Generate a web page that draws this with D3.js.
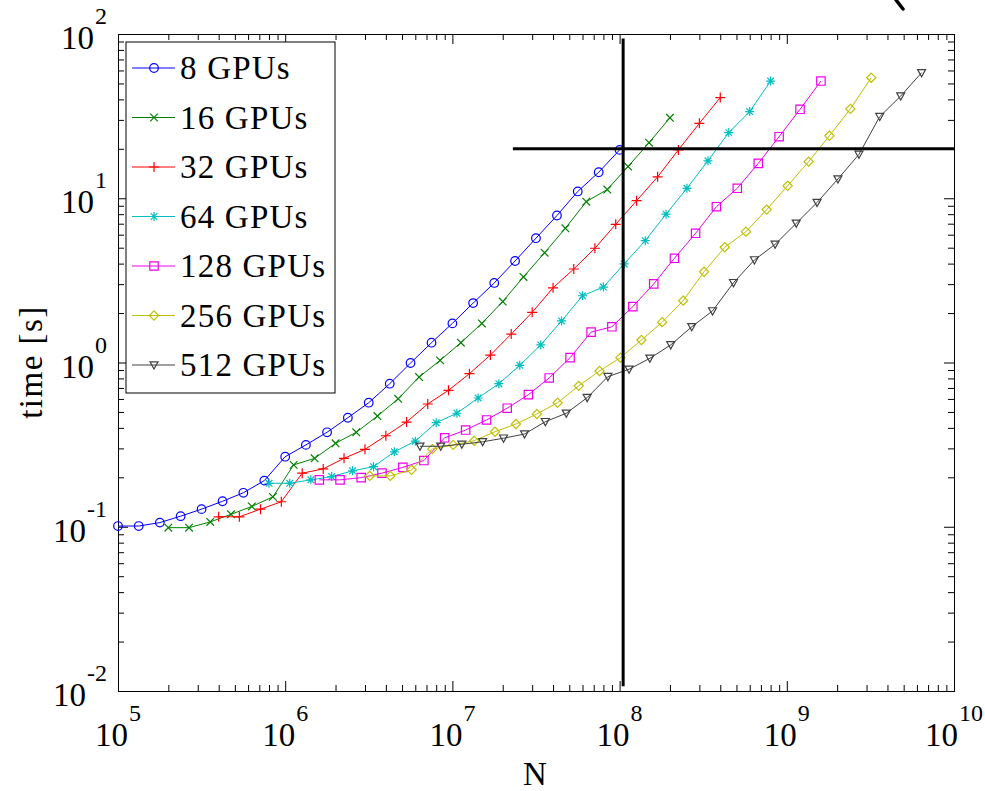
<!DOCTYPE html>
<html>
<head>
<meta charset="utf-8">
<script src="https://cdn.jsdelivr.net/npm/d3@7"></script>
<style>
  body { margin: 0; background: #fff; }
  text { font-family: "Liberation Serif", "Times New Roman", serif; fill: #000; }
</style>
</head>
<body>
<script>
// N values for the 8 GPU run; other runs are shifted by gpus/8
var baseN = [1.00e5, 1.33e5, 1.78e5, 2.37e5, 3.16e5, 4.22e5, 5.62e5, 7.50e5,
  1.00e6, 1.33e6, 1.78e6, 2.37e6, 3.16e6, 4.22e6, 5.62e6, 7.50e6,
  1.00e7, 1.33e7, 1.78e7, 2.37e7, 3.16e7, 4.22e7, 5.62e7, 7.50e7, 1.00e8];

var gpus = [8, 16, 32, 64, 128, 256, 512];
var labels = ["8 GPUs", "16 GPUs", "32 GPUs", "64 GPUs", "128 GPUs", "256 GPUs", "512 GPUs"];

var time8 = [0.101, 0.101, 0.106, 0.116, 0.128, 0.143, 0.161, 0.191, 0.267, 0.315, 0.376, 0.461, 0.569,
  0.743, 0.993, 1.32, 1.73, 2.30, 3.05, 4.15, 5.71, 7.85, 11.0, 14.4, 19.7];
var time16 = [0.0987, 0.0987, 0.107, 0.119, 0.133, 0.152, 0.238, 0.261, 0.322, 0.376, 0.472, 0.601,
  0.816, 1.03, 1.32, 1.73, 2.35, 3.32, 4.66, 6.56, 9.53, 11.3, 15.6, 21.8, 30.9];
var time32 = [0.115, 0.115, 0.128, 0.142, 0.212, 0.225, 0.261, 0.296, 0.358, 0.434, 0.559, 0.677,
  0.855, 1.11, 1.49, 2.02, 2.85, 3.71, 4.96, 6.94, 9.66, 13.5, 19.7, 28.6, 41.0];
var time64 = [0.184, 0.184, 0.193, 0.202, 0.219, 0.232, 0.286, 0.332, 0.430, 0.491, 0.608, 0.743,
  0.961, 1.28, 1.79, 2.55, 2.88, 3.98, 5.52, 8.00, 11.5, 16.9, 25.1, 33.7, 51.7];
var time128 = [0.193, 0.193, 0.199, 0.212, 0.230, 0.253, 0.348, 0.388, 0.447, 0.527, 0.637, 0.805,
  1.07, 1.53, 1.65, 2.19, 3.01, 4.31, 6.12, 8.88, 11.5, 16.3, 23.7, 34.8, 51.7];
var time256 = [0.204, 0.204, 0.222, 0.297, 0.315, 0.334, 0.379, 0.422, 0.486, 0.569, 0.721, 0.888,
  1.07, 1.37, 1.76, 2.38, 3.57, 5.03, 6.26, 8.53, 11.9, 16.7, 24.0, 35.0, 54.2];
var time512 = [0.309, 0.309, 0.318, 0.329, 0.346, 0.367, 0.436, 0.491, 0.611, 0.820, 0.910, 1.06,
  1.28, 1.65, 2.06, 3.06, 4.21, 5.24, 7.04, 9.42, 13.1, 18.5, 31.4, 41.9, 58.1];

var times = [time8, time16, time32, time64, time128, time256, time512];
var colors = ["#0000ff", "#008000", "#ff0000", "#00bfbf", "#ee00ee", "#bfbf00", "#404040"];
var markers = ["circle", "x", "plus", "star", "square", "diamond", "triangle"];

// black guide lines: N = 1.05e8 vertical, time = 20 s horizontal
var vLine = [[1.05e8, 94], [1.05e8, 0.0107]];
var hLine = [[2.3e7, 20], [1e10, 20]];

var width = 985, height = 791;
var margin = {top: 34, right: 954, bottom: 691, left: 118};

var svg = d3.select("body").append("svg")
  .attr("width", width)
  .attr("height", height);

var x = d3.scaleLog().domain([1e5, 1e10]).range([margin.left, margin.right]);
var y = d3.scaleLog().domain([1e-2, 1e2]).range([margin.bottom, margin.top]);

var xMajor = [1e5, 1e6, 1e7, 1e8, 1e9, 1e10];
var yMajor = [1e-2, 1e-1, 1e0, 1e1, 1e2];
var xMinor = x.ticks().filter(function(d) { return xMajor.indexOf(d) < 0; });
var yMinor = y.ticks().filter(function(d) { return yMajor.indexOf(d) < 0; });

function drawAxis(axisFn, scale, vals, size, transform) {
  var g = svg.append("g")
    .attr("transform", transform)
    .call(axisFn(scale).tickValues(vals).tickSize(size).tickSizeOuter(0).tickFormat(""));
  g.select(".domain").attr("stroke", "#000");
  g.selectAll(".tick line").attr("stroke", "#000");
}

// ticks on all four sides, pointing in
drawAxis(d3.axisBottom, x, xMajor, -10, "translate(0," + margin.bottom + ")");
drawAxis(d3.axisBottom, x, xMinor, -6, "translate(0," + margin.bottom + ")");
drawAxis(d3.axisTop, x, xMajor, -10, "translate(0," + margin.top + ")");
drawAxis(d3.axisTop, x, xMinor, -6, "translate(0," + margin.top + ")");
drawAxis(d3.axisLeft, y, yMajor, -10, "translate(" + margin.left + ",0)");
drawAxis(d3.axisLeft, y, yMinor, -6, "translate(" + margin.left + ",0)");
drawAxis(d3.axisRight, y, yMajor, -10, "translate(" + margin.right + ",0)");
drawAxis(d3.axisRight, y, yMinor, -6, "translate(" + margin.right + ",0)");

// tick labels as 10 with superscript
xMajor.forEach(function(d) {
  var e = Math.round(Math.log10(d));
  var t = svg.append("text")
    .attr("x", x(d))
    .attr("y", 746)
    .attr("text-anchor", "middle")
    .style("font-size", "33px");
  t.append("tspan").text("10");
  t.append("tspan").attr("dy", -25).attr("dx", 1).style("font-size", "24px").text(e);
});

yMajor.forEach(function(d) {
  var e = Math.round(Math.log10(d));
  var t = svg.append("text")
    .attr("x", 107)
    .attr("y", y(d) + 15)
    .attr("text-anchor", "end")
    .style("font-size", "33px");
  t.append("tspan").text("10");
  t.append("tspan").attr("dy", -25).attr("dx", 1).style("font-size", "24px").text(e);
});

svg.append("text")
  .attr("x", 535)
  .attr("y", 785)
  .attr("text-anchor", "middle")
  .style("font-size", "33px")
  .text("N");

svg.append("text")
  .attr("transform", "translate(42,362) rotate(-90)")
  .attr("text-anchor", "middle")
  .style("font-size", "33px")
  .style("letter-spacing", "1.5px")
  .text("time [s]");

function markerPath(type) {
  switch (type) {
    case "circle":
      return "M4.3,0A4.3,4.3 0 1,1 -4.3,0A4.3,4.3 0 1,1 4.3,0Z";
    case "x":
      return "M-3.8,-3.8L3.8,3.8M-3.8,3.8L3.8,-3.8";
    case "plus":
      return "M-5,0L5,0M0,-5L0,5";
    case "star":
      return "M-4.5,0L4.5,0M0,-4.5L0,4.5M-3.3,-3.3L3.3,3.3M-3.3,3.3L3.3,-3.3";
    case "square":
      return "M-4.2,-4.2L4.2,-4.2L4.2,4.2L-4.2,4.2Z";
    case "diamond":
      return "M0,-4.6L4.6,0L0,4.6L-4.6,0Z";
    case "triangle":
      return "M-4,-3.2L4,-3.2L0,4Z";
  }
}

var line = d3.line()
  .x(function(d) { return x(d[0]); })
  .y(function(d) { return y(d[1]); });

gpus.forEach(function(g, i) {
  var pts = baseN.map(function(n, k) { return [n * g / 8, times[i][k]]; });
  svg.append("path")
    .datum(pts)
    .attr("fill", "none")
    .attr("stroke", colors[i])
    .attr("stroke-width", 1)
    .attr("d", line);
  svg.append("g").selectAll("path")
    .data(pts)
    .enter().append("path")
    .attr("transform", function(d) { return "translate(" + x(d[0]) + "," + y(d[1]) + ")"; })
    .attr("d", markerPath(markers[i]))
    .attr("fill", "none")
    .attr("stroke", colors[i])
    .attr("stroke-width", 1.2);
});

// guide lines
[vLine, hLine].forEach(function(l) {
  svg.append("path")
    .datum(l)
    .attr("fill", "none")
    .attr("stroke", "#000")
    .attr("stroke-width", 3)
    .attr("d", line);
});

// legend
var leg = svg.append("g");
leg.append("rect")
  .attr("x", 126).attr("y", 42)
  .attr("width", 209).attr("height", 351)
  .attr("fill", "#fff")
  .attr("stroke", "#000")
  .attr("stroke-width", 1);

labels.forEach(function(lab, i) {
  var cy = 68 + i * 49.5;
  leg.append("line")
    .attr("x1", 132).attr("x2", 175)
    .attr("y1", cy).attr("y2", cy)
    .attr("stroke", colors[i]).attr("stroke-width", 1);
  leg.append("path")
    .attr("transform", "translate(154," + cy + ")")
    .attr("d", markerPath(markers[i]))
    .attr("fill", "none")
    .attr("stroke", colors[i])
    .attr("stroke-width", 1.2);
  leg.append("text")
    .attr("x", 180)
    .attr("y", cy + 11)
    .style("font-size", "33px")
    .style("letter-spacing", "1.2px")
    .text(lab);
});

// small black mark at top right corner of the picture
svg.append("path")
  .attr("d", "M896,0L903,9")
  .attr("stroke", "#000")
  .attr("stroke-width", 3.5)
  .attr("stroke-linecap", "round");
</script>
</body>
</html>
